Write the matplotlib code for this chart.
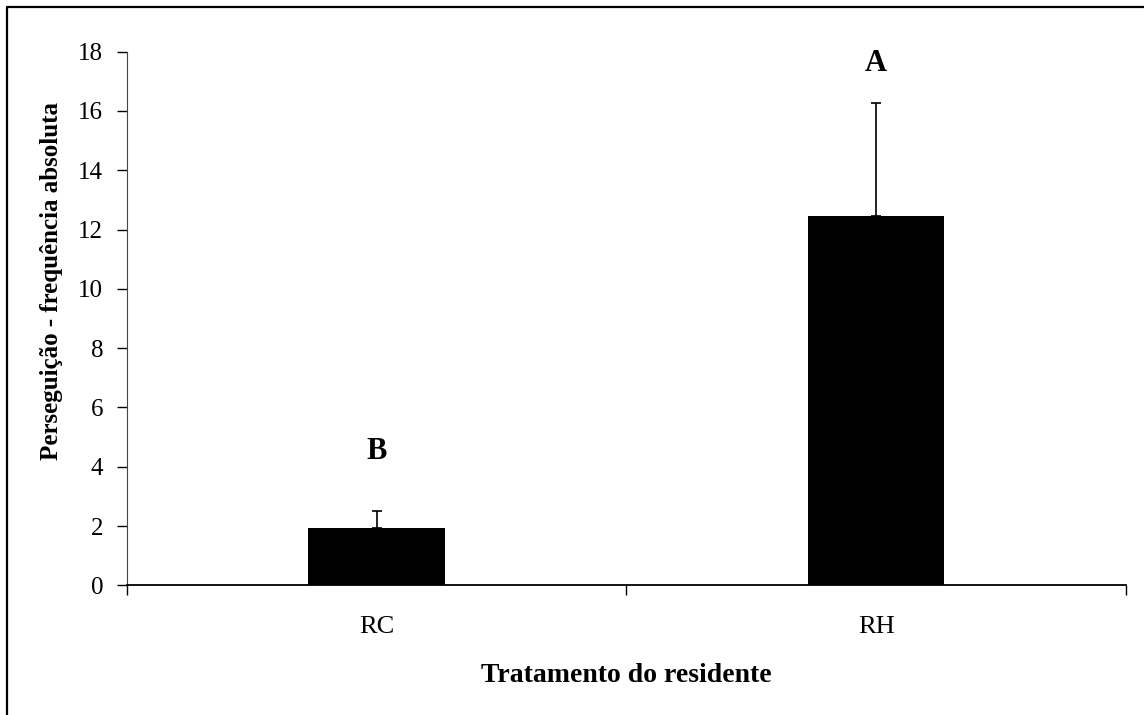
import matplotlib.pyplot as plt
from matplotlib.lines import Line2D

plt.rcParams['font.family'] = ['Liberation Serif', 'DejaVu Serif']

## Data
categories = ['RC', 'RH']
means = [1.92, 12.47]
errors = [0.59, 3.81]
letters = ['B', 'A']
letter_y = [4.5, 17.6]

fig = plt.figure(figsize=(11.44, 7.15), dpi=100)
ax = fig.add_axes([0.1108, 0.1814, 0.8735, 0.7464])

x = list(range(len(categories)))
ax.bar(x, means, width=0.273, color='black', zorder=2)
ax.errorbar(x, means, yerr=[[0, 0], errors], fmt='none', ecolor='black',
            elinewidth=1.2, capsize=3.3, capthick=1.2, zorder=3)

for xi, lt, ly in zip(x, letters, letter_y):
    ax.text(xi, ly, lt, ha='center', va='center', fontsize=22, fontweight='bold')

ax.set_xlim(-0.5, 1.5)
ax.set_ylim(0, 18)
ax.set_yticks(range(0, 19, 2))
ax.set_xticks([-0.5, 0.5, 1.5])
ax.set_xticklabels([])
ax.set_xticks(x, minor=True)
ax.set_xticklabels(categories, minor=True)
ax.tick_params(axis='x', which='minor', length=0, pad=22, labelsize=19)
ax.tick_params(axis='x', which='major', length=7, width=1, direction='out')
ax.tick_params(axis='y', length=7, width=1, direction='out', labelsize=18, pad=10)

ax.spines['top'].set_visible(False)
ax.spines['right'].set_visible(False)
ax.spines['left'].set_color('#444444')
ax.spines['bottom'].set_linewidth(1.3)

ax.set_xlabel('Tratamento do residente', fontsize=20, fontweight='bold', labelpad=18)
ax.set_ylabel('Perseguição - frequência absoluta', fontsize=18, fontweight='bold')
ax.yaxis.set_label_coords(-0.064, 0.57)

# frame round the chart (left and top edges visible)
fx = 7 / 1144
fy = 1 - 7 / 715
fig.add_artist(Line2D([fx, fx, 1], [0, fy, fy], transform=fig.transFigure,
                      color='black', linewidth=1.6))

fig.savefig('out.png', dpi=100)
